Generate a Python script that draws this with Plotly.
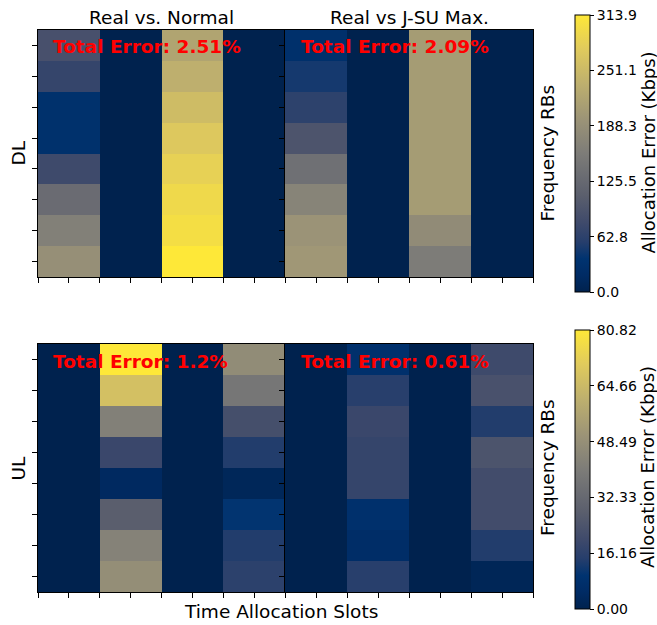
import plotly.graph_objects as go

W, H = 657, 625

# ---------------- data (rows = frequency RBs top->bottom, cols = time slots) ----------------
dl_normal = [
    [88, 0, 220, 0],
    [70, 0, 236, 0],
    [32, 0, 255, 0],
    [32, 0, 272, 0],
    [78, 0, 284, 0],
    [130, 0, 294, 0],
    [163, 0, 301, 0],
    [188, 0, 313.86, 0],
]
dl_jsu = [
    [30, 0, 207, 0],
    [48, 0, 207, 0],
    [63, 0, 207, 0],
    [94, 0, 207, 0],
    [138, 0, 207, 0],
    [170, 0, 207, 0],
    [195, 0, 182, 0],
    [200, 0, 157, 0],
]
ul_normal = [
    [0, 80.82, 0, 47],
    [0, 67, 0, 38],
    [0, 42, 0, 22],
    [0, 19, 0, 14],
    [0, 4, 0, 2.5],
    [0, 28, 0, 10],
    [0, 43, 0, 14],
    [0, 48, 0, 16],
]
ul_jsu = [
    [0, 8, 0, 20],
    [0, 15, 0, 23],
    [0, 19, 0, 14],
    [0, 18, 0, 24],
    [0, 18, 0, 21],
    [0, 8, 0, 21],
    [0, 6, 0, 14],
    [0, 15, 0, 2],
]
slots = [0, 1, 2, 3]
rbs = [0, 1, 2, 3, 4, 5, 6, 7]
dl_max = 313.86
ul_max = 80.82
dl_ticks = [0.0, 62.77, 125.54, 188.32, 251.09, 313.86]
dl_ticktext = ["0.0", "62.8", "125.5", "188.3", "251.1", "313.9"]
ul_ticks = [0.0, 16.164, 32.328, 48.492, 64.656, 80.82]
ul_ticktext = ["0.00", "16.16", "32.33", "48.49", "64.66", "80.82"]
col_titles = ["Real vs. Normal", "Real vs J-SU Max."]
row_labels = ["DL", "UL"]
errors = [["Total Error: 2.51%", "Total Error: 2.09%"], ["Total Error: 1.2%", "Total Error: 0.61%"]]

cividis = [
    [0.0, "rgb(0,34,78)"],
    [0.06, "rgb(0,43,100)"],
    [0.12, "rgb(0,51,112)"],
    [0.18, "rgb(38,62,108)"],
    [0.25, "rgb(63,74,107)"],
    [0.35, "rgb(91,95,109)"],
    [0.5, "rgb(125,124,120)"],
    [0.62, "rgb(155,147,119)"],
    [0.75, "rgb(189,175,110)"],
    [0.88, "rgb(225,203,92)"],
    [1.0, "rgb(254,232,56)"],
]

FONT = "DejaVu Sans"

def px(x):
    return x / W

def py(y):
    return 1 - y / H

fig = go.Figure()

panels = [
    (dl_normal, "x", "y", "coloraxis"),
    (dl_jsu, "x2", "y2", "coloraxis"),
    (ul_normal, "x3", "y3", "coloraxis2"),
    (ul_jsu, "x4", "y4", "coloraxis2"),
]
for z, xa, ya, ca in panels:
    fig.add_trace(go.Heatmap(z=z, x=slots, y=rbs, xaxis=xa, yaxis=ya, coloraxis=ca,
                             xgap=0, ygap=0, hoverinfo="skip"))

xdom = [[px(38), px(285)], [px(285), px(533)]]
ydom = [[py(277), py(30)], [py(592), py(344)]]

axis_common = dict(showline=True, mirror=True, linecolor="black", linewidth=1,
                   ticks="outside", ticklen=5, tickcolor="black", tickwidth=1,
                   showticklabels=False, showgrid=False, zeroline=False)

layout = dict(width=W, height=H, margin=dict(l=0, r=0, t=0, b=0),
              paper_bgcolor="white", plot_bgcolor="white", showlegend=False,
              font=dict(family=FONT, color="black"))

names = [("xaxis", "yaxis"), ("xaxis2", "yaxis2"), ("xaxis3", "yaxis3"), ("xaxis4", "yaxis4")]
for i, (xn, yn) in enumerate(names):
    r, c = divmod(i, 2)
    xa_id = "x" if i == 0 else f"x{i+1}"
    ya_id = "y" if i == 0 else f"y{i+1}"
    layout[xn] = dict(domain=xdom[c], anchor=ya_id, range=[-0.5, 3.5],
                      tickmode="array", tickvals=[-0.5, 0, 0.5, 1, 1.5, 2, 2.5, 3, 3.5], **axis_common)
    layout[yn] = dict(domain=ydom[r], anchor=xa_id, range=[7.5, -0.5],
                      tickmode="array", tickvals=rbs, **axis_common)

cb_common = dict(thickness=15, thicknessmode="pixels", lenmode="fraction", x=px(575), xanchor="left",
                 yanchor="middle", outlinewidth=1, outlinecolor="black", ticks="outside", ticklen=4,
                 tickcolor="black", tickfont=dict(size=14, family=FONT, color="black"), xpad=0, ypad=0,
                 tickmode="array")
layout["coloraxis"] = dict(colorscale=cividis, cmin=0, cmax=dl_max,
                           colorbar=dict(len=277 / H, y=py(153.5), tickvals=dl_ticks, ticktext=dl_ticktext, **cb_common))
layout["coloraxis2"] = dict(colorscale=cividis, cmin=0, cmax=ul_max,
                            colorbar=dict(len=279 / H, y=py(469.5), tickvals=ul_ticks, ticktext=ul_ticktext, **cb_common))
fig.update_layout(**layout)

ann = []
def text(t, x, y, size=18.5, angle=0, **kw):
    ann.append(dict(text=t, x=px(x), y=py(y), xref="paper", yref="paper", showarrow=False,
                    textangle=angle, font=dict(size=size, family=FONT, color=kw.pop("color", "black")),
                    xanchor=kw.pop("xanchor", "center"), yanchor=kw.pop("yanchor", "middle"), **kw))

text(col_titles[0], 161.5, 17)
text(col_titles[1], 409.5, 17)
text(row_labels[0], 17.5, 153, angle=-90)
text(row_labels[1], 17.5, 468, angle=-90)
text("Frequency RBs", 547, 153.5, angle=-90)
text("Frequency RBs", 547, 468, angle=-90)
text("Allocation Error (Kbps)", 647.5, 153, size=18, angle=-90)
text("Allocation Error (Kbps)", 647.5, 467.5, size=18, angle=-90)
text("Time Allocation Slots", 280.5, 611)
for r, yy in enumerate([46, 361]):
    for c, xx in enumerate([51, 299]):
        text("<b>" + errors[r][c] + "</b>", xx, yy, color="red", xanchor="left")

fig.update_layout(annotations=ann)
fig.write_html("out.html", config={"displayModeBar": False},
               post_script="document.body.style.margin='0';document.body.style.padding='0';")
